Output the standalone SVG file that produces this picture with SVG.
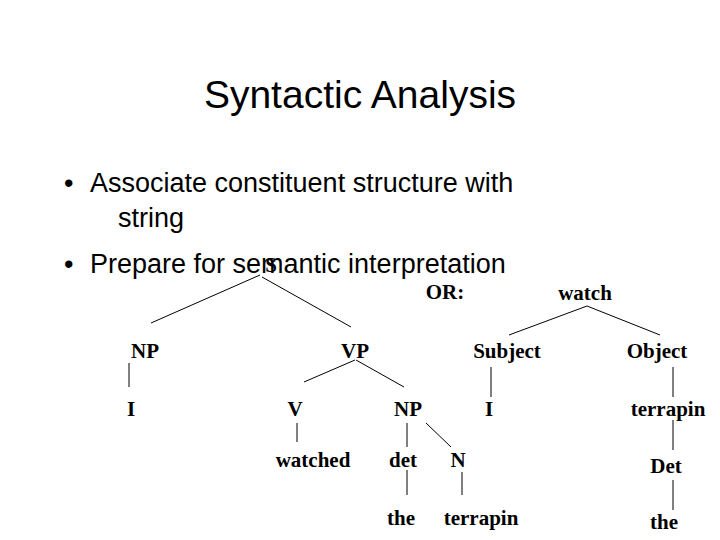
<svg xmlns="http://www.w3.org/2000/svg" width="720" height="540" viewBox="0 0 720 540">
<style>
.t{font-family:"Liberation Sans",Arial,sans-serif;fill:#000}
.n{font-family:"Liberation Serif","Times New Roman",serif;font-size:21px;font-weight:bold;text-anchor:middle;fill:#000}
.c line{stroke:#000;stroke-width:1}
</style>
<rect width="720" height="540" fill="#fff"/>
<text class="t" x="360" y="108" font-size="39" text-anchor="middle">Syntactic Analysis</text>
<text class="t" x="64" y="192" font-size="27">•</text>
<text class="t" x="90" y="192" font-size="27">Associate constituent structure with</text>
<text class="t" x="118" y="227" font-size="27">string</text>
<text class="t" x="64" y="273" font-size="27">•</text>
<g id="S"><text class="n" x="271" y="272" font-weight="normal">S</text></g>
<text class="t" x="90" y="273" font-size="27">Prepare for semantic interpretation</text>
<g class="c" id="connectors">
<line x1="260" y1="275" x2="151" y2="323"/>
<line x1="262" y1="277" x2="351" y2="327"/>
<line x1="129" y1="363" x2="129" y2="387"/>
<line x1="355" y1="360" x2="304" y2="382"/>
<line x1="356" y1="360" x2="404" y2="387"/>
<line x1="297" y1="423" x2="297" y2="442"/>
<line x1="407" y1="423" x2="407" y2="447"/>
<line x1="426" y1="423" x2="451" y2="447"/>
<line x1="407" y1="470" x2="407" y2="495"/>
<line x1="462" y1="472" x2="462" y2="495"/>
<line x1="587" y1="306" x2="509" y2="335"/>
<line x1="587" y1="306" x2="660" y2="335"/>
<line x1="491" y1="367" x2="491" y2="397"/>
<line x1="673" y1="367" x2="673" y2="397"/>
<line x1="673" y1="420" x2="673" y2="450"/>
<line x1="673" y1="480" x2="673" y2="510"/>
</g>
<g id="NP1"><text class="n" x="145" y="358">NP</text></g>
<g id="VP"><text class="n" x="355" y="358">VP</text></g>
<g id="I1"><text class="n" x="131" y="416">I</text></g>
<g id="V"><text class="n" x="295" y="416">V</text></g>
<g id="NP2"><text class="n" x="408" y="416">NP</text></g>
<g id="watched"><text class="n" x="313" y="467">watched</text></g>
<g id="det"><text class="n" x="403" y="467">det</text></g>
<g id="N"><text class="n" x="458" y="467">N</text></g>
<g id="the1"><text class="n" x="401" y="525">the</text></g>
<g id="terrapin1"><text class="n" x="481" y="525">terrapin</text></g>
<g id="OR"><text class="n" x="445" y="299" font-weight="normal">OR:</text></g>
<g id="watch"><text class="n" x="585" y="300">watch</text></g>
<g id="Subject"><text class="n" x="507" y="358">Subject</text></g>
<g id="Object"><text class="n" x="657" y="358">Object</text></g>
<g id="I2"><text class="n" x="489" y="416">I</text></g>
<g id="terrapin2"><text class="n" x="668" y="416">terrapin</text></g>
<g id="Det"><text class="n" x="666" y="473">Det</text></g>
<g id="the2"><text class="n" x="664" y="529">the</text></g>
</svg>
